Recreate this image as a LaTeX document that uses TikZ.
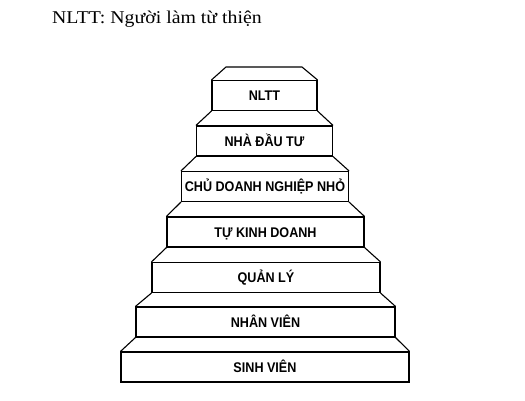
\documentclass[tikz,border=0pt]{standalone}
\usepackage{fontspec}
\setmainfont{Liberation Serif}[FakeStretch=1.1]
\newfontfamily\lsans{Liberation Sans}[FakeStretch=0.9]
\begin{document}
\begin{tikzpicture}[x=1pt,y=-1pt,
  stepbox/.style={draw=black,line width=1.1pt,fill=white,inner sep=0pt,
    minimum height=30pt,text height=10pt,text depth=0pt,
    font=\lsans\bfseries\fontsize{14}{16}\selectfont},
  tread/.style={draw=black,line width=1.1pt,line join=round}]
\useasboundingbox (0,0) rectangle (525,400);
\node[anchor=base west,font=\fontsize{18}{20}\selectfont,inner sep=0pt] (title) at (52,23) {NLTT: Người làm từ thiện};
\node[stepbox,minimum width=105pt] (s1) at (264.5,95.5) {NLTT};
\node[stepbox,minimum width=136pt] (s2) at (264.5,141) {NHÀ ĐẦU TƯ};
\node[stepbox,minimum width=167pt] (s3) at (265,186.5) {CHỦ DOANH NGHIỆP NHỎ};
\node[stepbox,minimum width=197pt] (s4) at (265.5,232) {TỰ KINH DOANH};
\node[stepbox,minimum width=228pt] (s5) at (266,277.5) {QUẢN LÝ};
\node[stepbox,minimum width=259pt] (s6) at (265.5,322) {NHÂN VIÊN};
\node[stepbox,minimum width=288pt] (s7) at (265,367) {SINH VIÊN};
\coordinate (tl) at (226,67);
\coordinate (tr) at (302,67);
\draw[tread] (s1.north west) -- (tl) -- (tr) -- (s1.north east);
\foreach \a/\b in {s1/s2,s2/s3,s3/s4,s4/s5,s5/s6,s6/s7}{
  \draw[tread] (\a.south west) -- (\b.north west);
  \draw[tread] (\a.south east) -- (\b.north east);
}
\end{tikzpicture}
\end{document}
